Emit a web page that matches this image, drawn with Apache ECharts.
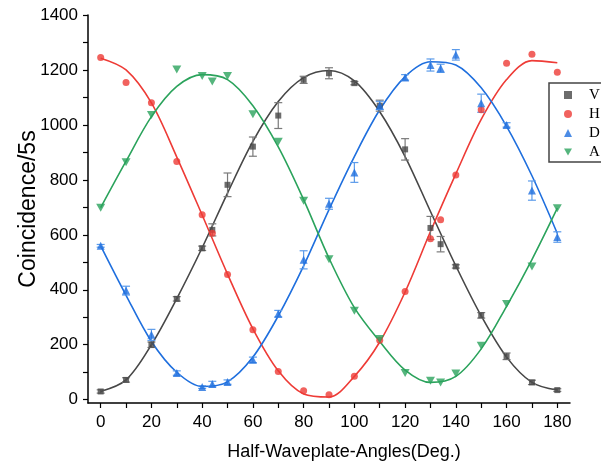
<!DOCTYPE html>
<html>
<head>
<meta charset="utf-8">
<script src="https://cdn.jsdelivr.net/npm/echarts@6/dist/echarts.min.js"></script>
<style>
html,body{margin:0;padding:0;background:#fff;}
#chart{width:601px;height:461px;}
</style>
</head>
<body>
<div id="chart"></div>
<script>
// ---- data ----
const angles = [0,10,20,30,40,44,50,60,70,80,90,100,110,120,130,134,140,150,160,170,180];
const vData = [30,72,200,367,551,618,782,921,1034,1164,1188,1152,1070,911,625,566,485,307,158,63,35];
const vErr  = [6,8,10,8,8,22,43,35,47,13,20,6,20,39,42,28,6,10,12,8,5];
const hData = [1245,1154,1081,867,673,606,456,255,103,33,18,85,216,394,586,655,818,1055,1224,1257,1192];
const dData = [560,397,236,97,46,57,64,145,313,509,713,827,1071,1173,1218,1206,1255,1079,1000,761,592];
const dErr  = [5,16,20,8,5,10,8,10,12,33,20,36,15,10,22,15,19,33,8,35,19];
const aData = [699,864,1036,1202,1178,1158,1178,1039,939,724,511,324,221,97,69,63,95,196,348,485,697];

// fitted curves, read every 10 degrees
const fitAngles = [0,10,20,30,40,50,60,70,80,90,100,110,120,130,140,150,160,170,180];
const vFit = [30,72,200,368,553,752,940,1085,1172,1198,1160,1048,885,685,487,305,155,63,35];
const hFit = [1243,1200,1080,883,672,457,258,105,21,10,85,210,392,612,822,1020,1165,1234,1226];
const dFit = [560,380,212,100,48,65,155,305,487,692,885,1055,1176,1230,1218,1135,995,815,605];
const aFit = [699,868,1030,1140,1183,1165,1070,920,728,515,335,212,108,63,85,185,340,510,697];

const xTicks = [0,10,20,30,40,50,60,70,80,90,100,110,120,130,140,150,160,170,180];
const xLabels = [0,20,40,60,80,100,120,140,160,180];
const yTicks = [0,100,200,300,400,500,600,700,800,900,1000,1100,1200,1300,1400];
const yLabels = [0,200,400,600,800,1000,1200,1400];

const names = ['V','H','D','A'];
const colors = {V:'#474747', H:'#ee3b36', D:'#1f6fde', A:'#2ba35c'};
const errColors = {V:'#7a7a7a', D:'#5b9bea'};

function pairs(xs, ys){ return xs.map((x,i)=>[x, ys[i]]); }
function errTriples(xs, ys, es){ return xs.map((x,i)=>[x, ys[i]-es[i], ys[i]+es[i]]); }

function errRender(color){
  return function(params, api){
    const x = api.value(0);
    const p1 = api.coord([x, api.value(1)]);
    const p2 = api.coord([x, api.value(2)]);
    const w = 4;
    const st = {stroke: color, lineWidth: 1.2};
    return {type:'group', children:[
      {type:'line', shape:{x1:p1[0], y1:p1[1], x2:p2[0], y2:p2[1]}, style:st},
      {type:'line', shape:{x1:p1[0]-w, y1:p1[1], x2:p1[0]+w, y2:p1[1]}, style:st},
      {type:'line', shape:{x1:p2[0]-w, y1:p2[1], x2:p2[0]+w, y2:p2[1]}, style:st}
    ]};
  };
}

const downTri = 'path://M0,0 L10,0 L5,8.66 Z';

const chart = echarts.init(document.getElementById('chart'), null, {renderer:'canvas'});
const fam = 'Liberation Sans, Arial, sans-serif';

chart.setOption({
  animation:false,
  backgroundColor:'#fff',
  grid:{left:88, right:31, top:15, bottom:58, containLabel:false, outerBoundsMode:'none'},
  legend:{
    data:names,
    orient:'vertical',
    left:549, top:83,
    padding:[4,20,2,15],
    itemGap:3,
    itemWidth:8, itemHeight:8,
    borderColor:'#444', borderWidth:1.5,
    backgroundColor:'#fff',
    textStyle:{fontFamily:'Liberation Serif, Times New Roman, serif', fontSize:15, color:'#000', lineHeight:16, padding:[0,0,0,12]}
  },
  xAxis:{
    type:'value', min:-5, max:185,
    name:'Half-Waveplate-Angles(Deg.)', nameLocation:'middle', nameGap:40, nameMoveOverlap:false,
    nameTextStyle:{fontSize:18, fontFamily:fam, color:'#000', padding:[0,0,0,30]},
    axisLine:{show:true, onZero:false, lineStyle:{color:'#000', width:1.5}},
    axisTick:{show:true, inside:false, length:5, customValues:xTicks, lineStyle:{color:'#000', width:1.2}},
    axisLabel:{customValues:xLabels, fontSize:17, margin:11, fontFamily:fam, color:'#000', formatter:v=>String(v)},
    splitLine:{show:false}
  },
  yAxis:{
    type:'value', min:-12, max:1400,
    name:'Coincidence/5s', nameLocation:'middle', nameGap:48, nameMoveOverlap:false,
    nameTextStyle:{fontSize:23, fontFamily:fam, color:'#000'},
    axisLine:{show:true, onZero:false, lineStyle:{color:'#000', width:1.5}},
    axisTick:{show:true, inside:false, length:5, customValues:yTicks, lineStyle:{color:'#000', width:1.2}},
    axisLabel:{customValues:yLabels, fontSize:17, margin:10, fontFamily:fam, color:'#000', formatter:v=>String(v)},
    splitLine:{show:false}
  },
  series:[
    {name:'V fit', type:'line', data:pairs(fitAngles, vFit), smooth:0.33, showSymbol:false, symbol:'none', lineStyle:{color:colors.V, width:1.6}, z:2},
    {name:'H fit', type:'line', data:pairs(fitAngles, hFit), smooth:0.33, showSymbol:false, symbol:'none', lineStyle:{color:colors.H, width:1.6}, z:2},
    {name:'D fit', type:'line', data:pairs(fitAngles, dFit), smooth:0.33, showSymbol:false, symbol:'none', lineStyle:{color:colors.D, width:1.6}, z:2},
    {name:'A fit', type:'line', data:pairs(fitAngles, aFit), smooth:0.33, showSymbol:false, symbol:'none', lineStyle:{color:colors.A, width:1.6}, z:2},
    {name:'V err', type:'custom', data:errTriples(angles, vData, vErr), renderItem:errRender(errColors.V), z:3},
    {name:'D err', type:'custom', data:errTriples(angles, dData, dErr), renderItem:errRender(errColors.D), z:3},
    {name:'V', type:'scatter', data:pairs(angles, vData), symbol:'rect', symbolSize:6, itemStyle:{color:colors.V}, z:4},
    {name:'H', type:'scatter', data:pairs(angles, hData), symbol:'circle', symbolSize:7, itemStyle:{color:colors.H}, z:4},
    {name:'D', type:'scatter', data:pairs(angles, dData), symbol:'triangle', symbolSize:8, itemStyle:{color:colors.D}, z:4},
    {name:'A', type:'scatter', data:pairs(angles, aData), symbol:downTri, symbolSize:[9,8], itemStyle:{color:colors.A}, z:4}
  ]
});
</script>
</body>
</html>
